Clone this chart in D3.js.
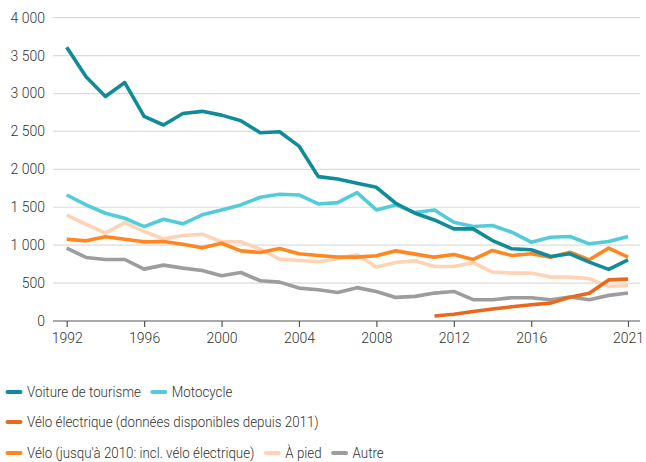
<!DOCTYPE html>
<html><head><meta charset="utf-8">
<script src="https://cdn.jsdelivr.net/npm/d3@7"></script>
<style>
body{margin:0;background:#fff;}
svg{display:block;font-family:Roboto,"Noto Sans",sans-serif;}
</style></head><body>
<svg id="c" width="646" height="462"></svg>
<script>
const years = d3.range(1992, 2022);
const voiture = [3610,3220,2960,3145,2700,2585,2737,2765,2715,2640,2482,2496,2307,1904,1873,1816,1763,1553,1421,1333,1215,1215,1061,952,939,851,886,776,680,807];
const motocycle = [1662,1531,1421,1355,1245,1342,1281,1400,1465,1531,1632,1671,1662,1544,1561,1693,1465,1531,1430,1465,1303,1246,1259,1171,1039,1105,1114,1018,1048,1114];
const veloElec = [null,null,null,null,null,null,null,null,null,null,null,null,null,null,null,null,null,null,null,65,90,125,158,188,215,236,312,366,542,552];
const velo = [1079,1057,1110,1079,1044,1048,1013,965,1026,925,904,956,886,864,845,842,860,925,882,842,877,812,930,864,886,842,908,807,961,842];
const aPied = [1395,1276,1158,1298,1180,1083,1127,1145,1045,1045,947,816,798,785,822,873,711,772,794,719,719,770,645,632,632,579,579,557,456,469];
const autre = [960,838,811,811,684,737,697,665,596,640,531,513,434,412,375,440,390,311,325,368,390,281,281,307,307,281,316,281,338,369];
const yTicks = [0,500,1000,1500,2000,2500,3000,3500,4000];
const xTicks = [1992,1996,2000,2004,2008,2012,2016,2021];

const seriesDefs = [
  {name:"Voiture de tourisme", values:voiture, color:"#108c98"},
  {name:"Motocycle", values:motocycle, color:"#52ccd8"},
  {name:"Vélo électrique (données disponibles depuis 2011)", values:veloElec, color:"#e8681c"},
  {name:"Vélo (jusqu'à 2010: incl. vélo électrique)", values:velo, color:"#ff8621"},
  {name:"À pied", values:aPied, color:"#ffd3b5"},
  {name:"Autre", values:autre, color:"#9d9d9d"}
];
const drawOrder = [5,4,3,1,0,2];

const svg = d3.select("#c");
const x = d3.scaleLinear().domain([1992,2021]).range([66.7,628]);
const y = d3.scaleLinear().domain([0,4000]).range([321,17.7]);
const fmt = v => d3.format(",")(v).replace(/,/g," ");

// gridlines
svg.append("g").selectAll("line").data(yTicks.filter(d=>d>0)).join("line")
  .attr("x1",53).attr("x2",640).attr("y1",d=>y(d)).attr("y2",d=>y(d))
  .attr("stroke","#dcdcdc").attr("stroke-width",1.2);

// y labels
svg.append("g").selectAll("text").data(yTicks).join("text")
  .attr("x",45).attr("y",d=>y(d)).attr("dy","0.35em").attr("text-anchor","end")
  .attr("font-size",14).attr("font-weight",300).attr("fill","#333").text(fmt);

// x axis
const xAxis = d3.axisBottom(x).tickValues(xTicks).tickFormat(d3.format("d")).tickSize(6).tickSizeOuter(0);
const gx = svg.append("g").attr("transform","translate(0,321)").call(xAxis);
gx.select(".domain").attr("d","M53,0H640").attr("stroke","#555").attr("stroke-width",1.2);
gx.selectAll(".tick line").attr("stroke","#555").attr("stroke-width",1.2);
gx.selectAll(".tick text").attr("font-size",14).attr("font-weight",300).attr("fill","#333")
  .attr("font-family","Roboto,'Noto Sans',sans-serif").attr("y",12);

// lines
const line = d3.line().defined(d=>d[1]!=null).x(d=>x(d[0])).y(d=>y(d[1]));
drawOrder.forEach(i=>{
  const s = seriesDefs[i];
  svg.append("path").datum(years.map((yr,k)=>[yr,s.values[k]]))
    .attr("d",line).attr("fill","none").attr("stroke",s.color)
    .attr("stroke-width",3.6).attr("stroke-linejoin","round").attr("stroke-linecap","butt");
});

// legend
const rows = [[0,1],[2],[3,4,5]];
const rowY = [392,422,453];
const squeeze = 0.86;
rows.forEach((r,ri)=>{
  let cx = 6;
  r.forEach(i=>{
    const s = seriesDefs[i];
    const g = svg.append("g").attr("transform",`translate(${cx},${rowY[ri]})`);
    g.append("line").attr("x1",1.5).attr("x2",14.5).attr("y1",0).attr("y2",0)
      .attr("stroke",s.color).attr("stroke-width",4).attr("stroke-linecap","round");
    const t = g.append("text").attr("transform",`translate(21,0) scale(${squeeze},1)`).attr("dy","0.35em")
      .attr("font-size",15.5).attr("font-weight",300).attr("fill","#333").text(s.name);
    cx += 21 + t.node().getComputedTextLength()*squeeze + 10;
  });
});
</script></body></html>
